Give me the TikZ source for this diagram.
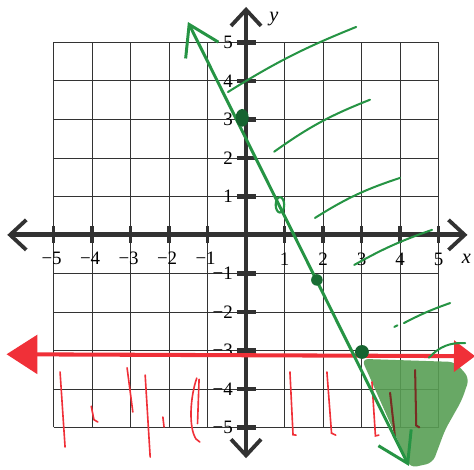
\documentclass[tikz,border=0pt]{standalone}
\usepackage{fontspec}
\setmainfont{Liberation Serif}
\usepackage{xcolor}
\usepackage{tikz}
\usetikzlibrary{arrows.meta, calc}
\definecolor{penGreen}{RGB}{38,148,68}
\definecolor{penDark}{RGB}{22,100,48}
\definecolor{penRed}{RGB}{240,48,56}
\definecolor{penBrown}{RGB}{120,45,35}
\definecolor{shadeGreen}{RGB}{88,158,84}
\definecolor{axisGray}{RGB}{50,50,50}
\tikzset{
  gridline/.style = {draw=black!80, line width=0.55pt},
  axisline/.style = {draw=axisGray, line width=3.6pt,
                     {Straight Barb[length=0.42cm, width=0.78cm, line width=2.8pt]}-{Straight Barb[length=0.42cm, width=0.78cm, line width=2.8pt]}},
  xtick/.style    = {draw=axisGray, line width=2.6pt},
  ytick/.style    = {draw=axisGray, line width=3.4pt},
  numlbl/.style   = {font=\fontsize{14}{16}\selectfont, inner sep=1pt},
  varlbl/.style   = {font=\fontsize{15}{17}\selectfont\itshape, inner sep=1pt},
  gline/.style    = {draw=penGreen, line width=2.2pt,
                     {Straight Barb[length=0.75cm, width=0.95cm, line width=2.2pt]}-{Straight Barb[length=0.75cm, width=0.95cm, line width=2.2pt]}},
  rline/.style    = {draw=penRed, line width=3pt,
                     {Triangle[length=0.8cm, width=1.0cm]}-{Triangle[length=0.55cm, width=0.8cm]}},
  ghatch/.style   = {draw=penGreen, line width=1.5pt, line cap=round},
  rhatch/.style   = {draw=penRed, line width=1.2pt, line cap=round},
  bhatch/.style   = {draw=penBrown, line width=1.5pt, line cap=round},
}
\begin{document}
\begin{tikzpicture}[x=1.0cm, y=1.0cm]
  \useasboundingbox (-6.39,-6.08) rectangle (5.92,6.10);
  \foreach \k in {-5,...,5} {
    \draw[gridline] (\k,-5) -- (\k,5);
    \draw[gridline] (-5,\k) -- (5,\k);
  }
  \coordinate (xl) at (-6.2,0);
  \coordinate (xr) at (5.75,0);
  \coordinate (yb) at (0,-5.8);
  \coordinate (yt) at (0,5.92);
  \draw[axisline] (xl) -- (xr);
  \draw[axisline] (yb) -- (yt);
  \foreach \k in {-5,...,-1,1,2,3,4,5} {
    \draw[xtick] (\k,-0.2) -- (\k,0.22);
    \draw[ytick] (-0.24,\k) -- (0.26,\k);
  }
  \foreach \k in {1,...,5} {
    \node[numlbl] (xp\k) at (\k,-0.64) {\k};
    \node[numlbl] (xn\k) at (-\k-0.05,-0.6) {−\k};
    \node[numlbl, anchor=east] (yp\k) at (-0.3,\k) {\k};
    \node[numlbl, anchor=east] (yn\k) at (-0.3,-\k) {−\k};
  }
  \node[varlbl] (xlbl) at (5.72,-0.62) {x};
  \node[varlbl] (ylbl) at (0.72,5.6) {y};

  \fill[shadeGreen, fill opacity=0.9, rounded corners=5pt]
    (3.0,-3.22) -- (5.43,-3.30) -- (5.8,-3.72) -- (5.6,-4.3)
    -- (5.17,-5.06) -- (4.85,-5.92) -- (4.26,-6.05) -- cycle;

  \coordinate (rl) at (-6.22,-3.1);
  \coordinate (rr) at (5.95,-3.15);
  \draw[rline] (rl) -- (rr);

  \draw[rhatch] (-4.83,-3.56) -- (-4.70,-5.51);
  \draw[rhatch] (-4.02,-4.45) -- (-3.95,-4.80) -- (-3.85,-4.86);
  \draw[rhatch] (-3.09,-3.45) -- (-2.94,-4.60);
  \draw[rhatch] (-2.62,-3.64) -- (-2.49,-5.77);
  \draw[rhatch] (-2.16,-4.73) -- (-2.13,-4.99);
  \draw[rhatch] (-1.28,-3.72) .. controls (-1.45,-4.2) and (-1.5,-5.0) .. (-1.3,-5.3)
    -- (-1.2,-5.38);
  \draw[rhatch] (-1.22,-3.75) -- (-1.26,-4.9);
  \draw[rhatch] (1.14,-3.56) -- (1.22,-5.19) -- (1.3,-5.2);
  \draw[rhatch] (2.10,-3.56) -- (2.22,-5.15) -- (2.33,-5.2);
  \draw[rhatch] (3.27,-3.82) -- (3.36,-5.22) -- (3.45,-5.2);
  \draw[bhatch] (3.74,-4.10) -- (3.87,-5.27);
  \draw[bhatch] (4.39,-3.51) -- (4.42,-4.95) -- (4.5,-5.0);

  \draw[ghatch] (-0.47,3.71) to[bend left=5] (2.86,5.40);
  \draw[ghatch] (0.73,2.16) to[bend left=7] (3.22,3.51);
  \draw[ghatch] (1.79,0.44) to[bend left=7] (4.0,1.48);
  \draw[ghatch] (2.81,-0.78) to[bend left=5] (4.83,0.13);
  \draw[ghatch] (3.85,-2.39) -- (3.93,-2.35);
  \draw[ghatch] (4.10,-2.29) to[bend left=4] (5.30,-1.77);
  \draw[ghatch] (4.75,-3.19) to[bend left=25] (5.69,-2.81);

  \coordinate (gtop) at (-1.51,5.53);
  \coordinate (gbot) at (4.23,-6.0);
  \draw[gline] (gtop) -- (gbot);

  \fill[penDark] (-0.1,3.04) ellipse [x radius=0.17, y radius=0.23];
  \draw[penGreen, line width=1.6pt] (0.88,0.78) ellipse [x radius=0.11, y radius=0.2];
  \fill[penDark!80!penGreen] (1.84,-1.17) circle [radius=0.15];
  \fill[penDark] (3.01,-3.04) circle [radius=0.18];
\end{tikzpicture}
\end{document}
